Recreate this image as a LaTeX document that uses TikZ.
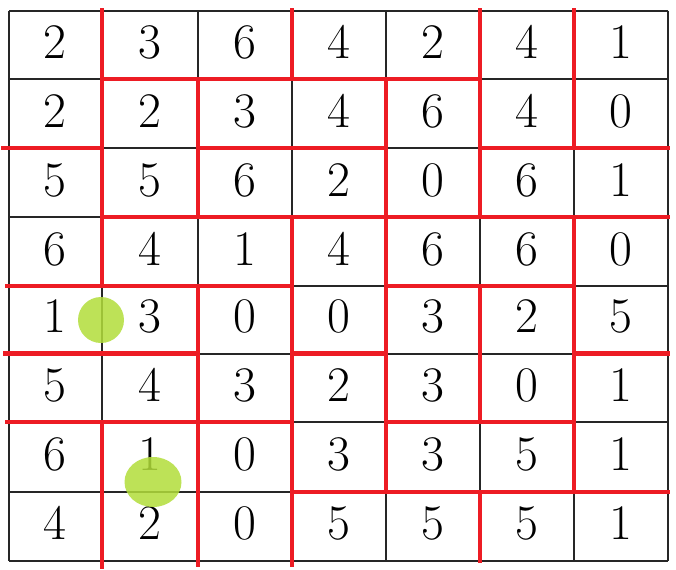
\documentclass[tikz,border=0pt]{standalone}
\usetikzlibrary{shapes.geometric,calc}
\definecolor{domred}{RGB}{237,28,36}
\definecolor{dotgreen}{RGB}{178,222,58}
\begin{document}
\begin{tikzpicture}[x=0.5pt,y=-0.5pt,
  gridline/.style={line width=1pt, draw=black!85},
  redline/.style={line width=2.1pt, draw=domred, line cap=rect},
  digit/.style={font=\fontsize{27}{30}\selectfont, inner sep=0pt, anchor=base},
  greendot/.style={ellipse, fill=dotgreen, fill opacity=0.85, draw=none, inner sep=0pt}]
\useasboundingbox (0,0) rectangle (676,569);
\fill[white] (0,0) rectangle (676,569);
% grid points
\foreach \x [count=\i from 0] in {9,101.7,197.7,291.7,386,480,574,668.3}{
  \foreach \y [count=\j from 0] in {10.5,79,148,217,286,353.5,422,491.7,560.5}{
    \coordinate (g\i-\j) at (\x,\y);
  }
}
% black grid
\foreach \i in {0,...,7}{\draw[gridline] (g\i-0) -- (g\i-8);}
\foreach \j in {0,...,8}{\draw[gridline] (g0-\j) -- (g7-\j);}
% digits
\foreach \row [count=\r from 0] in {{2,3,6,4,2,4,1},{2,2,3,4,6,4,0},{5,5,6,2,0,6,1},{6,4,1,4,6,6,0},{1,3,0,0,3,2,5},{5,4,3,2,3,0,1},{6,1,0,3,3,5,1},{4,2,0,5,5,5,1}}{
  \foreach \v [count=\c from 0] in \row {
    \pgfmathtruncatemacro\nc{\c+1}
    \pgfmathtruncatemacro\nr{\r+1}
    \node[digit] (d\r-\c) at ($(g\c-\nr)!0.5!(g\nc-\nr) + (0,-21)$) {$\v$};
  }
}
% red domino boundaries: vertical
\draw[redline] (g1-0) -- (g1-4);
\draw[redline] (g1-6) -- ([yshift=-3pt]g1-8);
\draw[redline] (g2-1) -- (g2-3);
\draw[redline] (g2-4) -- ([yshift=-2pt]g2-8);
\draw[redline] (g3-0) -- (g3-1);
\draw[redline] (g3-3) -- ([yshift=-2pt]g3-8);
\draw[redline] (g4-1) -- (g4-7);
\draw[redline] (g5-0) -- (g5-3);
\draw[redline] (g5-4) -- (g5-6);
\draw[redline] (g5-7) -- (g5-8);
\draw[redline] (g6-0) -- (g6-2);
\draw[redline] (g6-3) -- (g6-7);
% red domino boundaries: horizontal
\draw[redline] (g1-1) -- (g5-1);
\draw[redline] ([xshift=-3pt]g0-2) -- (g1-2);
\draw[redline] (g2-2) -- (g4-2);
\draw[redline] (g5-2) -- (g7-2);
\draw[redline] (g1-3) -- (g7-3);
\draw[redline] ([xshift=-1pt]g0-4) -- (g3-4);
\draw[redline] (g4-4) -- (g6-4);
\draw[redline] ([xshift=-2pt]g0-5) -- (g2-5);
\draw[redline] (g3-5) -- (g4-5);
\draw[redline] (g6-5) -- (g7-5);
\draw[redline] ([xshift=-1pt]g0-6) -- (g3-6);
\draw[redline] (g4-6) -- (g6-6);
\draw[redline] (g3-7) -- (g7-7);
% green markers
\node[greendot, minimum width=23pt, minimum height=23pt] (dotA) at (101,320) {};
\node[greendot, minimum width=28.5pt, minimum height=25pt] (dotB) at (153,482) {};
\end{tikzpicture}
\end{document}
